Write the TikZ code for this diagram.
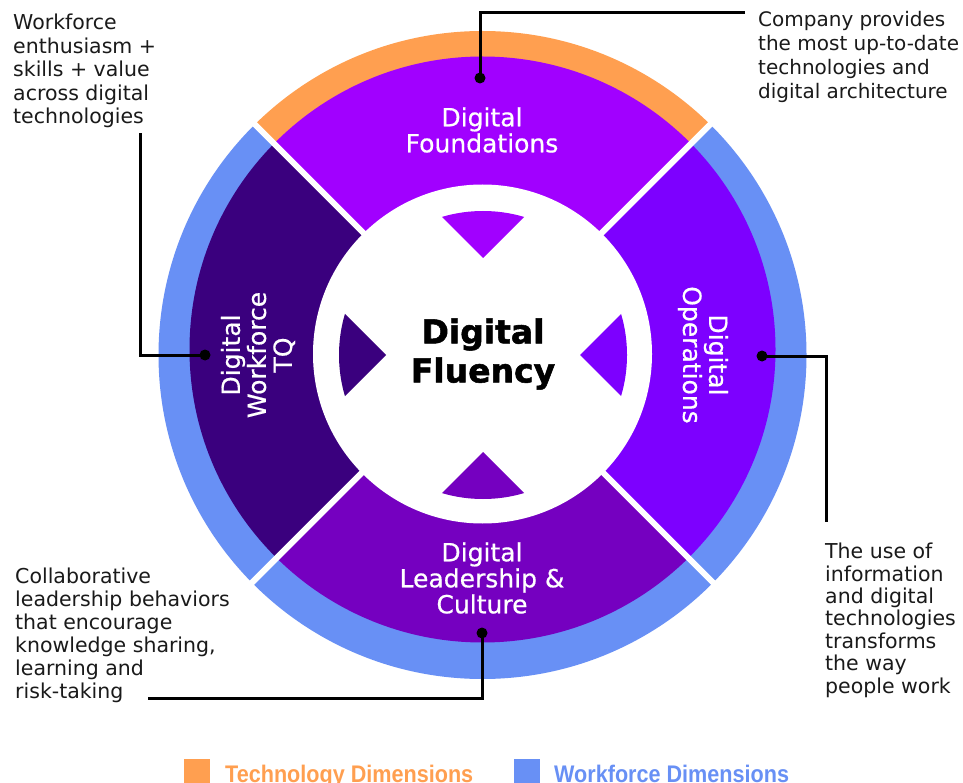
\documentclass[tikz,border=0pt]{standalone}
\usepackage{fontspec}
\setmainfont{DejaVu Sans}
\newfontfamily\legfont[FakeStretch=0.9]{Liberation Sans}
\newfontfamily\labelfont[FakeBold=0.6]{DejaVu Sans}
\newfontfamily\heavyfont[BoldFeatures={FakeBold=1.6}]{DejaVu Sans}
\definecolor{ringorange}{HTML}{FF9F50}
\definecolor{ringblue}{HTML}{6890F5}
\definecolor{segtop}{HTML}{A100FF}
\definecolor{segright}{HTML}{7D00FF}
\definecolor{segbottom}{HTML}{7500C0}
\definecolor{segleft}{HTML}{3A007E}
\definecolor{notetext}{HTML}{1A1A1A}
\begin{document}
\begin{tikzpicture}[x=1pt,y=-1pt,
  note/.style={font=\fontsize{20.5}{23.5}\selectfont, align=left, inner sep=0pt, anchor=base west, text=notetext},
  seglabel/.style={font=\labelfont\fontsize{25}{26}\selectfont, text=white, align=center, inner sep=0pt},
  dotnode/.style={circle, fill=black, inner sep=0pt, minimum size=11pt},
  callout/.style={line width=3pt, black},
  sepline/.style={line width=6pt, white},
  legbox/.style={inner sep=0pt, minimum size=26pt},
  legtext/.style={font=\legfont\bfseries\fontsize{24}{24}\selectfont, inner sep=0pt, anchor=base west}]
\useasboundingbox (0,0) rectangle (963,783);
\fill[white] (0,0) rectangle (963,783);
% top quadrant
\begin{scope}
  \clip (482.5,352) -- (82.5,-48) -- (882.5,-48) -- cycle;
  \fill[ringorange] (482.5,355) circle[radius=324];
  \fill[segtop] (482.5,349.5) circle[radius=293];
\end{scope}
% right quadrant
\begin{scope}
  \clip (482.5,352) -- (882.5,-48) -- (882.5,752) -- cycle;
  \fill[ringblue] (482.5,355) circle[radius=324];
  \fill[segright] (482.5,349.5) circle[radius=293];
\end{scope}
% bottom quadrant
\begin{scope}
  \clip (482.5,352) -- (882.5,752) -- (82.5,752) -- cycle;
  \fill[ringblue] (482.5,355) circle[radius=324];
  \fill[segbottom] (482.5,349.5) circle[radius=293];
\end{scope}
% left quadrant
\begin{scope}
  \clip (482.5,352) -- (82.5,752) -- (82.5,-48) -- cycle;
  \fill[ringblue] (482.5,355) circle[radius=324];
  \fill[segleft] (482.5,349.5) circle[radius=293];
\end{scope}
% separators
\draw[sepline] (247.5,117) -- (717.5,587);
\draw[sepline] (717.5,117) -- (247.5,587);
% inner white disc
\fill[white] (482.5,354) circle[radius=169.5];
% inner wedges
\begin{scope}
  \clip (483,355) circle[radius=144];
  \fill[segtop] (483,258) -- (283,58) -- (683,58) -- cycle;
  \fill[segright] (580,355) -- (780,155) -- (780,555) -- cycle;
  \fill[segbottom] (483,452) -- (683,652) -- (283,652) -- cycle;
  \fill[segleft] (386,355) -- (186,555) -- (186,155) -- cycle;
\end{scope}
% segment labels
\node[seglabel] (lfound) at (482,130) {Digital\\Foundations};
\node[seglabel] (llead) at (482,578) {Digital\\Leadership \&\\Culture};
\node[seglabel, rotate=90] (lwork) at (258,355) {Digital\\Workforce\\TQ};
\node[seglabel, rotate=-90] (loper) at (703,355) {Digital\\Operations};
\node[font=\heavyfont\bfseries\fontsize{33}{39}\selectfont, align=center, inner sep=0pt] (center) at (483,354) {Digital\\Fluency};
% annotation texts (anchor = baseline of last line)
\node[note] (tleft) at (13,124) {Workforce\\enthusiasm +\\skills + value\\across digital\\technologies};
\node[note, font=\fontsize{20}{24}\selectfont] (tright) at (758,99) {Company provides\\the most up-to-date\\technologies and\\digital architecture};
\node[note, font=\fontsize{20.5}{23}\selectfont] (tbl) at (15,698) {Collaborative\\leadership behaviors\\that encourage\\knowledge sharing,\\learning and\\risk-taking};
\node[note, font=\fontsize{20.5}{22.4}\selectfont] (tbr) at (825,693) {The use of\\information\\and digital\\technologies\\transforms\\the way\\people work};
% callouts
\coordinate (e1) at (745,13);
\coordinate (e2) at (140,133);
\coordinate (e3) at (826,522);
\coordinate (e4) at (148,698);
\node[dotnode] (d1) at (480,78) {};
\node[dotnode] (d2) at (205,355) {};
\node[dotnode] (d3) at (762,356) {};
\node[dotnode] (d4) at (482,633) {};
\draw[callout] (d1.center) |- (e1);
\draw[callout] (d2.center) -| (e2);
\draw[callout] (d3.center) -| (e3);
\draw[callout] (d4.center) |- (e4);
% legend
\node[legbox, fill=ringorange, anchor=north west] (kt) at (184,759) {};
\node[legtext, text=ringorange] (ktt) at (225,782) {Technology Dimensions};
\node[legbox, fill=ringblue, anchor=north west] (kw) at (514,759) {};
\node[legtext, text=ringblue] (kwt) at (554,782) {Workforce Dimensions};
\end{tikzpicture}
\end{document}
